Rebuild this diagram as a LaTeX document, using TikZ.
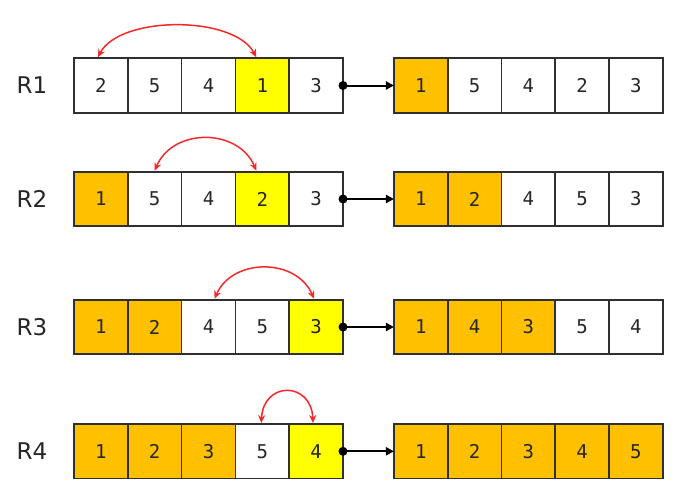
\documentclass[tikz,border=0pt]{standalone}
\usepackage{fontspec}
\newfontfamily\digitfont{DejaVu Sans Mono}
\newfontfamily\labfont{DejaVu Sans}
\usetikzlibrary{arrows.meta,calc}
\definecolor{cellorange}{HTML}{FFC000}
\definecolor{cellyellow}{HTML}{FFFF00}
\definecolor{edgegray}{HTML}{303030}
\definecolor{swapred}{HTML}{F5282A}
\tikzset{
  cellbox/.style={minimum width=53.8pt, minimum height=54.5pt,
    inner sep=0pt, outer sep=0pt, font=\digitfont\fontsize{19}{19}\selectfont, text=black!85},
  cellborder/.style={draw=edgegray, line width=1.7pt},
  ofill/.style={fill=cellorange},
  yfill/.style={fill=cellyellow},
  wfill/.style={fill=white},
  rowlabel/.style={font=\labfont\fontsize{23}{23}\selectfont, text=black!85, inner sep=0pt},
  swaparrow/.style={draw=swapred, line width=1.5pt, {Stealth[length=8pt,width=7pt]}-{Stealth[length=8pt,width=7pt]}},
  movearrow/.style={draw=black, line width=2pt, -{Triangle[length=8pt,width=8pt]}},
  dotmark/.style={circle, fill=black, inner sep=0pt, minimum size=9pt},
}
\begin{document}
\begin{tikzpicture}[x=1pt,y=-1pt]
\useasboundingbox (0,0) rectangle (677,487);
% rows: index / centre y / left cells / right cells
\foreach \r/\yc/\left/\right in {
  1/85.5/{2/w,5/w,4/w,1/y,3/w}/{1/o,5/w,4/w,2/w,3/w},
  2/199/{1/o,5/w,4/w,2/y,3/w}/{1/o,2/o,4/w,5/w,3/w},
  3/327/{1/o,2/o,4/w,5/w,3/y}/{1/o,4/o,3/o,5/w,4/w},
  4/451.3/{1/o,2/o,3/o,5/w,4/y}/{1/o,2/o,3/o,4/o,5/o}}{
  \node[rowlabel] (lab\r) at (32,\yc) {R\r};
  \foreach \v/\c [count=\i] in \left {
    \node[cellbox, \c fill] (L\r c\i) at ({74+53.8*(\i-0.5)},\yc) {\v};
  }
  \foreach \v/\c [count=\i] in \right {
    \node[cellbox, \c fill] (R\r c\i) at ({394+53.75*(\i-0.5)},\yc) {\v};
  }
  \foreach \i in {1,...,5} {
    \draw[cellborder] (L\r c\i.north west) rectangle (L\r c\i.south east);
    \draw[cellborder] (R\r c\i.north west) rectangle (R\r c\i.south east);
  }
  \node[dotmark] (dot\r) at (L\r c5.east) {};
  \draw[movearrow] (dot\r.center) -- (R\r c1.west);
}
% swap arcs
\coordinate (a1) at ($(L1c1.north)+(-3,-1)$);
\coordinate (b1) at ($(L1c4.north)+(-6,-1)$);
\coordinate (a2) at ($(L2c2.north)+(0,-1)$);
\coordinate (b2) at ($(L2c4.north)+(-6,-1)$);
\coordinate (a3) at ($(L3c3.north)+(6,-1)$);
\coordinate (b3) at ($(L3c5.north)+(-2,-1)$);
\coordinate (a4) at ($(L4c4.north)+(-1,-1)$);
\coordinate (b4) at ($(L4c5.north)+(-3,-1)$);
\draw[swaparrow] (a1) .. controls ($(a1)+(22,-42)$) and ($(b1)+(-22,-42)$) .. (b1);
\draw[swaparrow] (a2) .. controls ($(a2)+(18,-43)$) and ($(b2)+(-18,-43)$) .. (b2);
\draw[swaparrow] (a3) .. controls ($(a3)+(18,-41)$) and ($(b3)+(-18,-41)$) .. (b3);
\draw[swaparrow] (a4) .. controls ($(a4)+(2,-42)$) and ($(b4)+(-2,-42)$) .. (b4);
\end{tikzpicture}
\end{document}
